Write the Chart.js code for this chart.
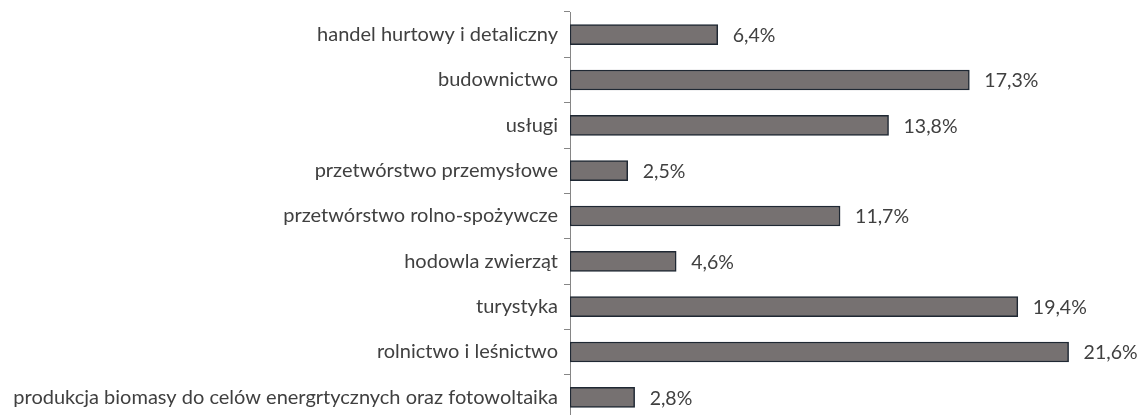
<!DOCTYPE html>
<html>
<head>
<meta charset="utf-8">
<script src="https://cdn.jsdelivr.net/npm/chart.js@4"></script>
<style>
  html, body { margin: 0; padding: 0; background: #fff; overflow: hidden; }
  #wrap { position: relative; width: 1140px; height: 420px; }
</style>
</head>
<body>
<div id="wrap"><canvas id="sectorChart"></canvas></div>
<script>
const categories = [
  "handel hurtowy i detaliczny",
  "budownictwo",
  "usługi",
  "przetwórstwo przemysłowe",
  "przetwórstwo rolno-spożywcze",
  "hodowla zwierząt",
  "turystyka",
  "rolnictwo i leśnictwo",
  "produkcja biomasy do celów energrtycznych oraz fotowoltaika"
];
const shares = [6.4, 17.3, 13.8, 2.5, 11.7, 4.6, 19.4, 21.6, 2.8];

const FONT = "Lato, 'Liberation Sans', sans-serif";

// value label to the right of each bar, e.g. "6,4%"
const valueLabels = {
  id: "valueLabels",
  afterDatasetsDraw(chart) {
    const ctx = chart.ctx;
    const meta = chart.getDatasetMeta(0);
    ctx.save();
    ctx.font = "19.5px " + FONT;
    ctx.fillStyle = "#404040";
    ctx.textBaseline = "middle";
    ctx.textAlign = "left";
    meta.data.forEach((bar, i) => {
      const txt = shares[i].toFixed(1).replace(".", ",") + "%";
      ctx.fillText(txt, bar.x + 15, bar.y + 1);
    });
    ctx.restore();
  }
};

function initChart() {
  const ctx = document.getElementById("sectorChart").getContext("2d");
  new Chart(ctx, {
    type: "bar",
    data: {
      labels: categories,
      datasets: [{
        data: shares,
        backgroundColor: "#767171",
        borderColor: "#1f2833",
        borderWidth: 1.5,
        borderSkipped: false,
        barThickness: 20
      }]
    },
    options: {
      indexAxis: "y",
      responsive: true,
      maintainAspectRatio: false,
      animation: false,
      layout: { padding: { top: 12, right: 16, bottom: 0, left: 0 } },
      plugins: {
        legend: { display: false },
        tooltip: { enabled: false }
      },
      scales: {
        x: {
          display: false,
          min: 0,
          max: 24
        },
        y: {
          afterFit(scale) {
            scale.width = 570;
            // labels sit inside their bands, no extra room needed at the ends
            scale.paddingTop = 0;
            scale.paddingBottom = 0;
          },
          border: { display: true, color: "#868686", width: 1 },
          grid: {
            drawOnChartArea: false,
            color: "#868686",
            tickLength: 6,
            offset: true
          },
          ticks: {
            color: "#404040",
            font: { family: FONT, size: 20 },
            padding: 6
          }
        }
      }
    },
    plugins: [valueLabels]
  });
}

window.onload = () => {
  initChart();
};
</script>
</body>
</html>
